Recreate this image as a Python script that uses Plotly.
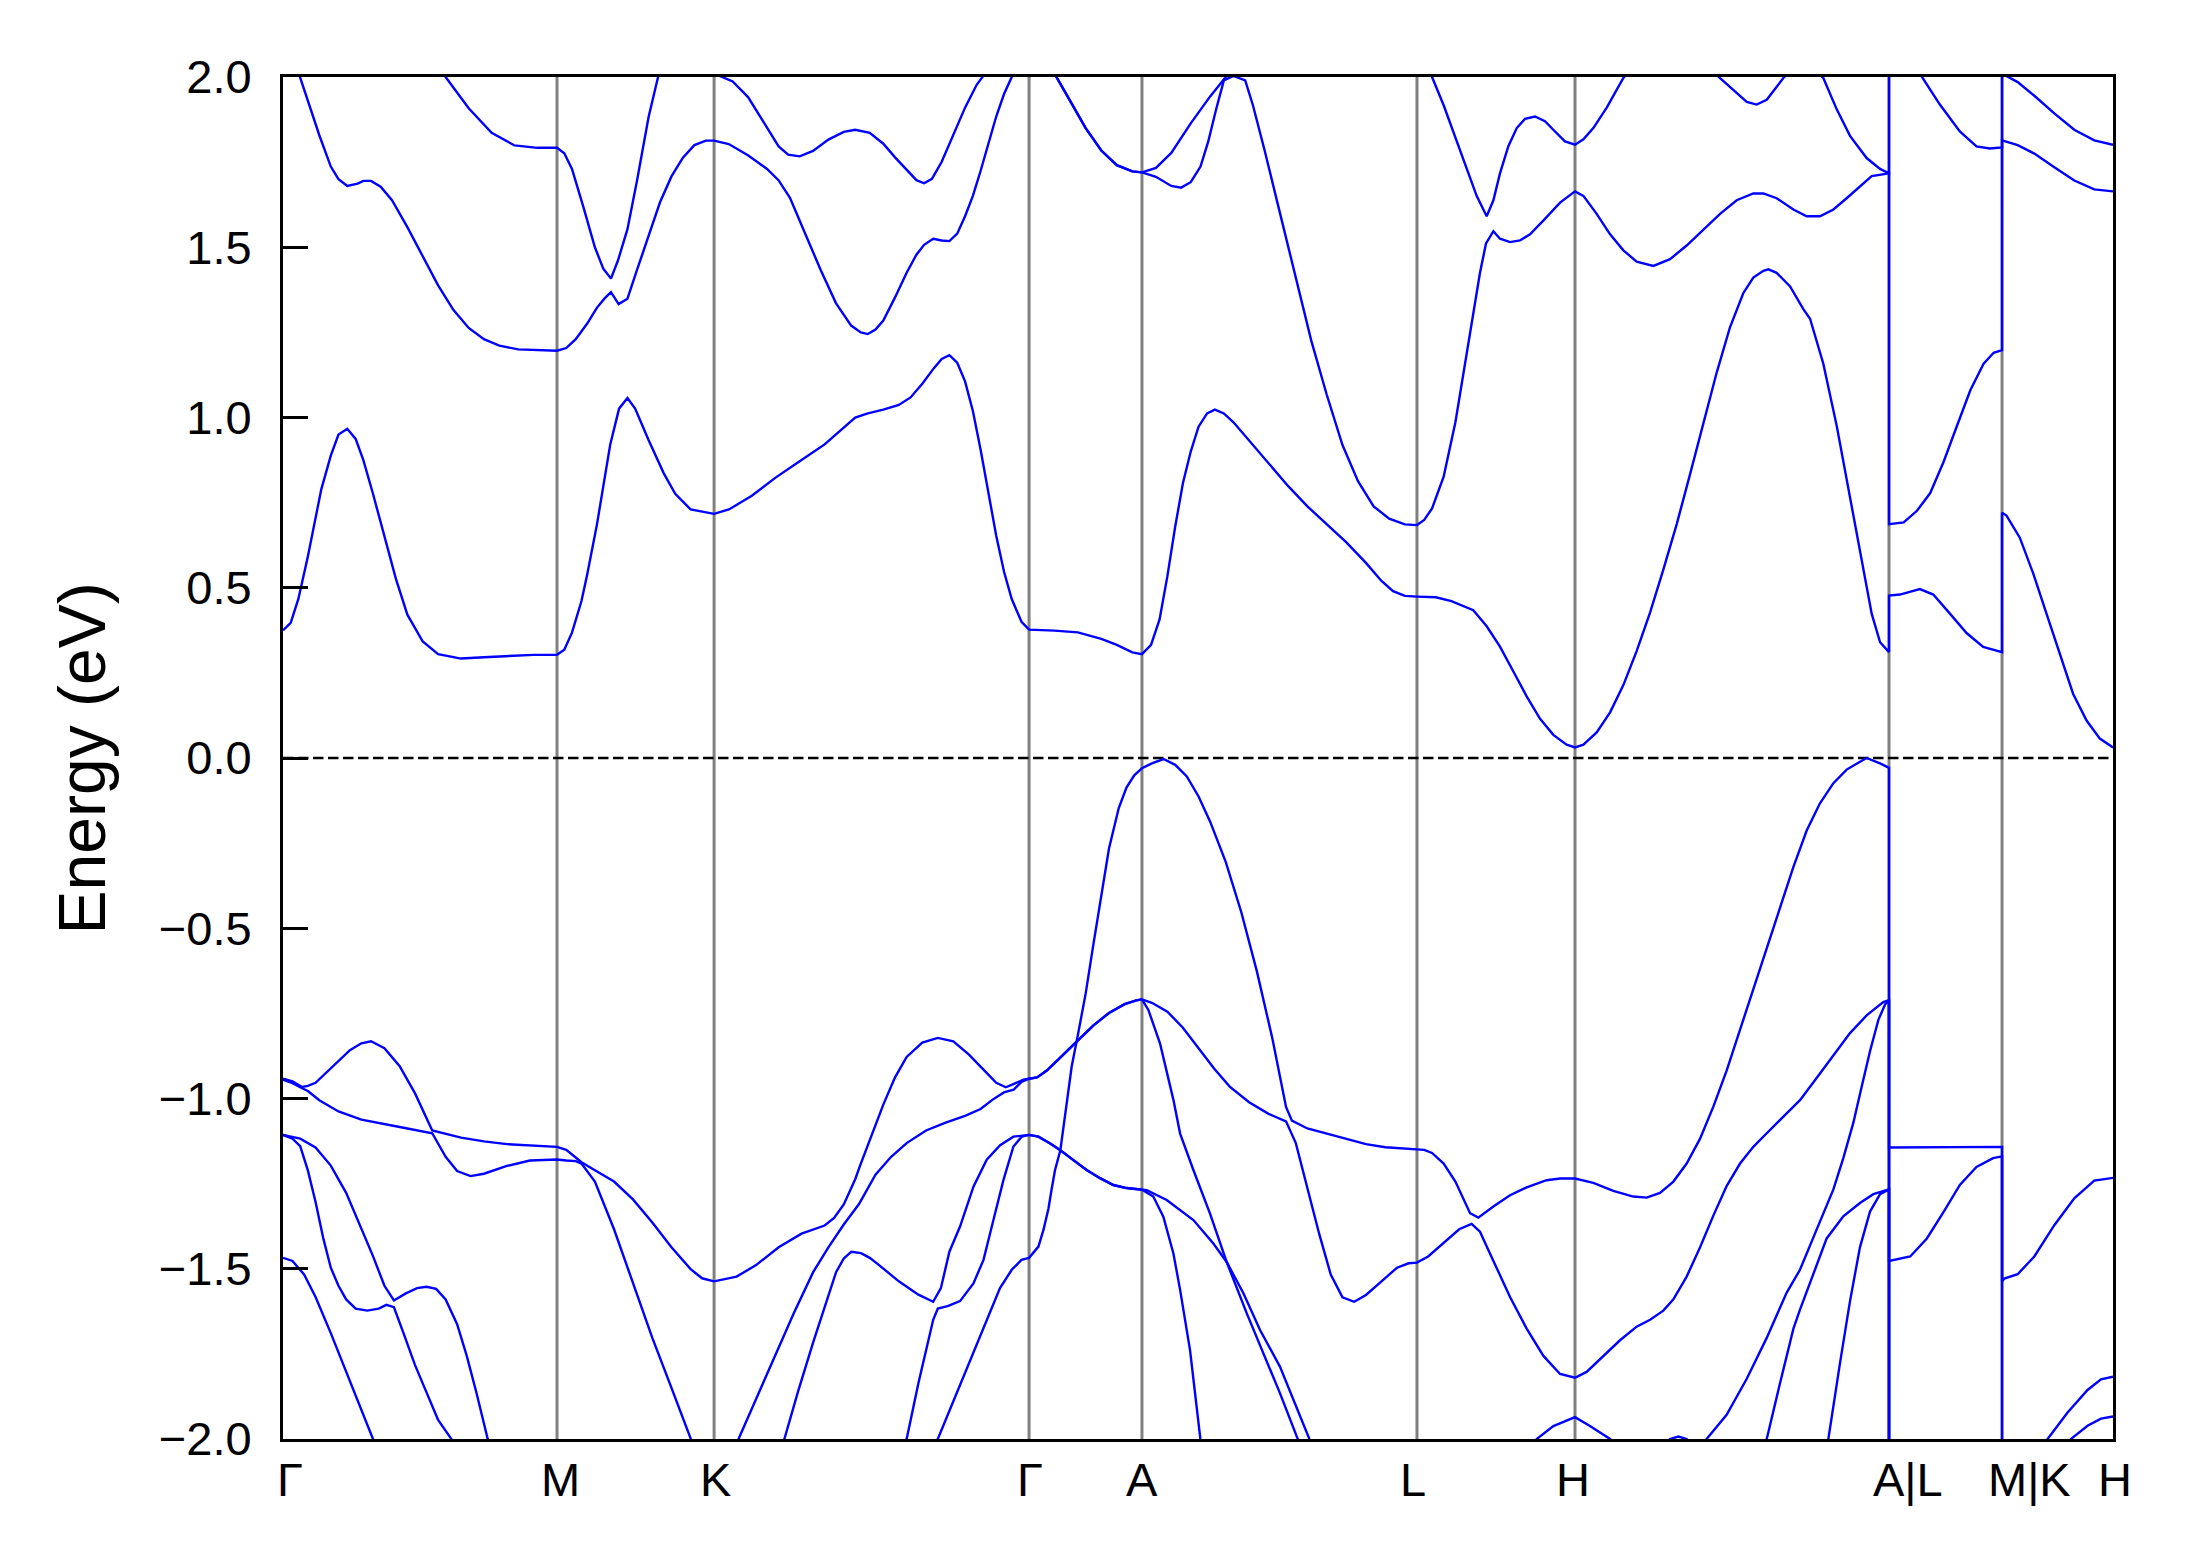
import plotly.graph_objects as go

# ---------------- k-path / axes data ----------------
kpath_pos = [0.0, 0.1961, 0.3085, 0.5339, 0.6147, 0.8115, 0.9246, 1.1493, 1.2302, 1.3096]
kpath_labels = ["Γ", "M", "K", "Γ", "A", "L", "H", "A|L", "M|K", "H"]
energy_ticks = [-2.0, -1.5, -1.0, -0.5, 0.0, 0.5, 1.0, 1.5, 2.0]
energy_tick_text = ["−2.0", "−1.5", "−1.0", "−0.5", "0.0", "0.5", "1.0", "1.5", "2.0"]
fermi_level = 0.0
y_title = "Energy (eV)"

# ---------------- conduction bands ----------------
c1_k = [0, .0055, .011, .0178, .0274, .0342, .0397, .046, .052, .0575, .0644, .0726, .0808, .089, .1, .111, .1274, .1438, .1602, .1794, .1961,
        .2013, .2068, .2136, .2177, .2246, .2342, .2405, .2465, .252, .2616, .2725, .2807, .2917, .3085,
        .3191, .3355, .352, .3684, .3876, .4095, .4185, .4296, .4407, .4491, .4575, .4658, .4714, .4769, .4825, .4881, .4937, .4992, .5048, .5104, .516, .5215, .5285, .5339,
        .5521, .5688, .5856, .5967, .6078, .6147,
        .6212, .6273, .6329, .6385, .644, .6496, .6552, .6613, .6669, .6733, .6802, .6914, .7053, .7192, .7331, .7471, .761, .775, .7861, .7944, .8028, .8115,
        .825, .8362, .8518, .8614, .8709, .8805, .89, .8996, .9091, .9186, .9246,
        .9306, .9401, .9497, .9592, .9687, .9783, .9878, .9974, 1.0069, 1.0164, 1.026, 1.0355, 1.045, 1.0522, 1.0594, 1.063, 1.0689, 1.0785, 1.088, 1.0928, 1.1023, 1.1119, 1.1214, 1.131, 1.1369, 1.1429, 1.1493,
        1.1493, 1.1571, 1.1714, 1.181, 1.1929, 1.2048, 1.2167, 1.2302,
        1.2302, 1.2334, 1.2429, 1.2525, 1.262, 1.2716, 1.2811, 1.2907, 1.3002, 1.3096]
c1_e = [0.375, 0.397, 0.467, 0.592, 0.789, 0.888, 0.950, 0.967, 0.937, 0.875, 0.776, 0.651, 0.526, 0.421, 0.342, 0.305, 0.292, 0.296, 0.300, 0.303, 0.303,
        0.318, 0.368, 0.461, 0.539, 0.684, 0.921, 1.026, 1.057, 1.026, 0.934, 0.836, 0.776, 0.730, 0.717,
        0.730, 0.770, 0.822, 0.868, 0.921, 1.0, 1.012, 1.023, 1.037, 1.059, 1.099, 1.145, 1.172, 1.183, 1.161, 1.106, 1.019, 0.906, 0.780, 0.653, 0.547, 0.467, 0.400, 0.377,
        0.374, 0.369, 0.350, 0.332, 0.310, 0.305,
        0.332, 0.407, 0.534, 0.680, 0.807, 0.900, 0.973, 1.012, 1.023, 1.012, 0.986, 0.932, 0.866, 0.799, 0.739, 0.686, 0.633, 0.573, 0.520, 0.490, 0.476, 0.474,
        0.472, 0.461, 0.434, 0.387, 0.327, 0.254, 0.181, 0.115, 0.068, 0.039, 0.031,
        0.039, 0.075, 0.134, 0.214, 0.314, 0.427, 0.553, 0.687, 0.833, 0.986, 1.132, 1.265, 1.365, 1.411, 1.431, 1.435, 1.425, 1.385, 1.318, 1.29, 1.158, 0.975, 0.765, 0.555, 0.424, 0.340, 0.311,
        0.477, 0.48, 0.496, 0.48, 0.424, 0.367, 0.326, 0.311,
        0.72, 0.712, 0.647, 0.542, 0.424, 0.306, 0.188, 0.11, 0.057, 0.031]

c2_k = [0, .0123, .0178, .026, .0342, .0397, .046, .0534, .0575, .063, .0699, .078, .089, .1, .111, .1219, .1329, .1438, .1548, .1684, .1821, .1961,
        .2027, .2095, .2177, .2246, .23, .2347, .2402, .2465, .2534, .2616, .2698, .278, .2862, .2944, .3026, .3085,
        .319, .3327, .3464, .3546, .3628, .3738, .3847, .3957, .4066, .4135, .4185, .424, .4296, .4379, .4463, .4533, .4588, .4653, .4714, .4769, .4825, .4881, .4937, .4992, .5048, .5104, .516, .5215, .5339,
        .5535, .5633, .5744, .5856, .5967, .6078, .6147,
        .6247, .6357, .6427, .6496, .6566, .6621, .6677, .6733, .6802, .6886, .6941, .7025, .7136, .7248, .7359, .747, .7582, .7693, .7805, .7916, .8028, .8115,
        .8167, .8223, .8306, .839, .8471, .8518, .8566, .8609, .8662, .8709, .8781, .8852, .8924, .9019, .9139, .9246,
        .9306, .9401, .9497, .9592, .9687, .9807, .9926, 1.0045, 1.0164, 1.0284, 1.0403, 1.0522, 1.0594, 1.0689, 1.0809, 1.0904, 1.0999, 1.1095, 1.119, 1.1286, 1.1369, 1.1493,
        1.1493, 1.1598, 1.1693, 1.1788, 1.1884, 1.1979, 1.2075, 1.217, 1.2242, 1.2302,
        1.2302, 1.2414, 1.2533, 1.2676, 1.2819, 1.2962, 1.3096]
c2_e = [2.15, 2.0, 1.934, 1.829, 1.737, 1.70, 1.680, 1.687, 1.695, 1.695, 1.678, 1.638, 1.559, 1.474, 1.388, 1.316, 1.263, 1.230, 1.211, 1.20, 1.197, 1.196,
        1.204, 1.230, 1.276, 1.322, 1.349, 1.368, 1.333, 1.349, 1.434, 1.533, 1.632, 1.708, 1.763, 1.80, 1.813, 1.813,
        1.803, 1.770, 1.730, 1.697, 1.645, 1.539, 1.434, 1.336, 1.270, 1.25, 1.245, 1.258, 1.285, 1.352, 1.425, 1.478, 1.507, 1.525, 1.520, 1.518, 1.54, 1.591, 1.651, 1.724, 1.804, 1.884, 1.95, 2.0, 2.2,
        2.0, 1.93, 1.85, 1.784, 1.741, 1.723, 1.72,
        1.707, 1.68, 1.675, 1.691, 1.737, 1.81, 1.904, 1.99, 2.003, 1.99, 1.917, 1.784, 1.598, 1.411, 1.225, 1.066, 0.919, 0.813, 0.739, 0.703, 0.686, 0.684,
        0.699, 0.733, 0.826, 0.986, 1.185, 1.305, 1.425, 1.511, 1.547, 1.525, 1.515, 1.52, 1.538, 1.578, 1.631, 1.664,
        1.651, 1.598, 1.538, 1.491, 1.458, 1.445, 1.465, 1.505, 1.551, 1.598, 1.638, 1.658, 1.658, 1.644, 1.611, 1.591, 1.591, 1.611, 1.644, 1.678, 1.709, 1.717,
        0.687, 0.692, 0.726, 0.778, 0.87, 0.975, 1.08, 1.158, 1.19, 1.198,
        1.814, 1.80, 1.775, 1.735, 1.696, 1.67, 1.664]

c3_k = [0, .09, .1164, .1329, .1493, .1657, .1821, .1961, .2013, .2068, .215, .2232, .2292, .2347, .2397, .2465, .2534, .2616, .2684, .29, .3085,
        .3218, .3328, .3437, .3547, .3615, .3698, .3793, .3903, .4013, .4095, .4199, .4296, .438, .4463, .4533, .4588, .4644, .4714, .4797, .4881, .4964, .5006, .5339,
        .5535, .5633, .5744, .5856, .5967, .6078, .6147,
        .6247, .6357, .6496, .6635, .6747, .72, .8115,
        .8223, .8306, .839, .8471, .8542, .8614, .8662, .8709, .8769, .8829, .8888, .896, .9031, .9103, .9174, .9246,
        .9306, .9377, .9473, .9592, .99, 1.0284, 1.038, 1.0475, 1.0546, 1.0618, 1.0737, 1.088, 1.1023, 1.1119, 1.1214, 1.1333, 1.1429, 1.1493,
        1.1493, 1.1738, 1.1857, 1.2, 1.2119, 1.2214, 1.2302,
        1.2302, 1.2414, 1.2533, 1.2676, 1.2819, 1.2962, 1.3096]
c3_e = [2.5, 2.2, 2.0, 1.908, 1.836, 1.799, 1.792, 1.792, 1.776, 1.730, 1.618, 1.5, 1.437, 1.408, 1.461, 1.553, 1.697, 1.882, 2.0, 2.3, 2.01,
        1.987, 1.941, 1.868, 1.796, 1.772, 1.767, 1.783, 1.816, 1.839, 1.845, 1.836, 1.804, 1.764, 1.727, 1.697, 1.688, 1.701, 1.751, 1.83, 1.91, 1.977, 2.0, 2.3,
        2.0, 1.93, 1.85, 1.784, 1.741, 1.723, 1.72,
        1.733, 1.777, 1.864, 1.943, 2.0, 2.5, 2.15,
        2.0, 1.917, 1.824, 1.731, 1.651, 1.591, 1.638, 1.717, 1.797, 1.85, 1.877, 1.884, 1.87, 1.84, 1.811, 1.801,
        1.817, 1.85, 1.91, 1.997, 2.15, 1.997, 1.963, 1.927, 1.919, 1.933, 1.997, 2.06, 1.997, 1.905, 1.827, 1.762, 1.730, 1.717,
        2.15, 1.997, 1.919, 1.84, 1.796, 1.79, 1.793,
        2.01, 1.985, 1.945, 1.893, 1.845, 1.814, 1.801]

# ---------------- valence bands ----------------
v1_k = [0, .0068, .0137, .0178, .0233, .0342, .0479, .0561, .063, .0726, .0835, .0945, .1027, .1068, .1274, .1438, .1602, .1821, .1961,
        .2027, .2095, .2136, .2232, .2369, .2506, .2643, .278, .2917, .2999, .3085,
        .3246, .3383, .3547, .3711, .3876, .3944, .4013, .4095, .4129, .4213, .4296, .438, .4463, .4575, .4686, .4797, .4909, .502, .5104, .5173, .5243, .5299, .5339,
        .5396, .5466, .555, .5633, .5679, .5689, .5744, .58, .5856, .5911, .5981, .6036, .6092, .6147,
        .6218, .6301, .6385, .6468, .6552, .6635, .6747, .6858, .6969, .7081, .7178, .722, .7331, .7471, .761, .775, .7888, .8028, .8115,
        .8167, .8223, .8306, .839, .8495, .8554, .8662, .8781, .89, .9043, .9139, .9246,
        .9377, .952, .9663, .9759, .9854, .995, 1.0045, 1.0141, 1.0236, 1.0331, 1.0427, 1.0522, 1.0618, 1.0713, 1.0809, 1.0904, 1.0999, 1.1095, 1.119, 1.1286, 1.1333, 1.1429, 1.1493,
        1.1493, 1.1693, 1.1979, 1.2302,
        1.2302, 1.2318, 1.2414, 1.2533, 1.2676, 1.2819, 1.2962, 1.3096]
v1_e = [-0.942, -0.95, -0.966, -0.963, -0.954, -0.911, -0.858, -0.838, -0.832, -0.852, -0.905, -0.985, -1.058, -1.094, -1.115, -1.126, -1.134, -1.14, -1.142,
        -1.151, -1.174, -1.187, -1.211, -1.244, -1.297, -1.364, -1.437, -1.501, -1.528, -1.537,
        -1.523, -1.49, -1.437, -1.397, -1.373, -1.351, -1.311, -1.237, -1.198, -1.105, -1.018, -0.938, -0.878, -0.836, -0.822, -0.832, -0.871, -0.918, -0.954, -0.967, -0.955, -0.945, -0.942,
        -0.938, -0.918, -0.885, -0.852, -0.833, -0.812, -0.692, -0.546, -0.4, -0.266, -0.147, -0.087, -0.051, -0.03,
        -0.016, -0.003, -0.02, -0.054, -0.113, -0.187, -0.306, -0.453, -0.626, -0.825, -1.025, -1.065, -1.088, -1.104, -1.12, -1.134, -1.143, -1.147, -1.148,
        -1.151, -1.16, -1.191, -1.244, -1.337, -1.35, -1.317, -1.284, -1.261, -1.24, -1.235, -1.235,
        -1.248, -1.271, -1.288, -1.291, -1.277, -1.244, -1.191, -1.118, -1.024, -0.918, -0.798, -0.679, -0.559, -0.44, -0.32, -0.213, -0.133, -0.074, -0.034, -0.011, 0.0, -0.016, -0.029,
        -1.144, -1.144, -1.143, -1.142,
        -1.537, -1.529, -1.516, -1.464, -1.372, -1.293, -1.241, -1.233]

v2_k = [0, .0068, .0137, .0178, .026, .0397, .0561, .0726, .0863, .1068, .1164, .1246, .1342, .1438, .1602, .1767, .1961,
        .2027, .2095, .2136, .2232, .2369, .2506, .2643, .278, .2917, .3085,
        .326, .3465, .3656, .3794, .3903, .4013, .4122, .424, .4352, .4463, .4602, .4742, .4881, .4992, .5076, .5159, .5229, .5285, .5339,
        .5396, .5466, .555, .5633, .5689, .58, .5911, .6023, .6106, .6147,
        .6218, .6329, .644, .6552, .6663, .6775, .6914, .7053, .7178, .7248, .7331, .7415, .7498, .7582, .7666, .775, .7861, .7972, .8056, .8115,
        .8195, .8306, .8417, .8506, .8566, .8662, .8781, .89, .902, .9139, .9246,
        .9329, .9449, .9568, .9687, .9783, .9878, .995, 1.0045, 1.0141, 1.0236, 1.0331, 1.0427, 1.0522, 1.0618, 1.0713, 1.0809, 1.0856, 1.0975, 1.1095, 1.1214, 1.1333, 1.1452, 1.1493,
        1.1493, 1.1645, 1.1764, 1.1884, 1.2, 1.2119, 1.2238, 1.2302,
        1.2302, 1.2628, 1.2771, 1.2914, 1.301, 1.3096]
v2_e = [-0.945, -0.955, -0.97, -0.978, -1.005, -1.038, -1.062, -1.076, -1.086, -1.102, -1.171, -1.213, -1.228, -1.221, -1.198, -1.182, -1.179,
        -1.182, -1.184, -1.191, -1.244, -1.384, -1.544, -1.703, -1.85, -2.0, -2.18,
        -2.0, -1.81, -1.63, -1.51, -1.437, -1.37, -1.31, -1.224, -1.171, -1.131, -1.094, -1.071, -1.051, -1.031, -1.004, -0.982, -0.974, -0.951, -0.942,
        -0.938, -0.918, -0.885, -0.852, -0.828, -0.785, -0.749, -0.723, -0.712, -0.709,
        -0.719, -0.745, -0.792, -0.852, -0.912, -0.965, -1.011, -1.045, -1.067, -1.131, -1.264, -1.397, -1.517, -1.584, -1.597, -1.577, -1.537, -1.497, -1.484, -1.482,
        -1.464, -1.424, -1.384, -1.368, -1.391, -1.477, -1.583, -1.676, -1.756, -1.809, -1.82,
        -1.803, -1.756, -1.71, -1.67, -1.65, -1.623, -1.59, -1.523, -1.437, -1.344, -1.257, -1.191, -1.142, -1.102, -1.064, -1.025, -1.005, -0.94, -0.874, -0.808, -0.756, -0.717, -0.711,
        -1.477, -1.464, -1.411, -1.333, -1.254, -1.201, -1.175, -1.17,
        -2.18, -2.0, -1.922, -1.856, -1.825, -1.817]

v3_k = [0, .0123, .0233, .0342, .0452, .0561, .0644, .0726, .0794, .0876, .0959, .1027, .1096, .1164, .1246, .1315, .1383, .1465, .1961,
        .2506, .3085,
        .3588, .3684, .3794, .3903, .3958, .4013, .4067, .4136, .4199, .4268, .4407, .4547, .4653, .4708, .4769, .4845, .4941, .5036, .5132, .5227, .5339,
        .5406, .549, .5563, .5584, .5608, .5644, .5679, .58, .5911, .6023, .6106, .6147,
        .6193, .6276, .6372, .642, .6515, .6634, .6753, .6873, .6992, .7135, .7345, .7666, .8115,
        .87, .8972, .9091, .9246, .9353, .9497, .97, .9926, .9986, 1.0045, 1.012, 1.0188, 1.0331, 1.0475, 1.0618, 1.0761, 1.0856, 1.0975, 1.1095, 1.1166, 1.1238, 1.1297, 1.1357, 1.1417, 1.1465, 1.1493,
        1.1493, 1.2302,
        1.2302, 1.2795, 1.2914, 1.301, 1.3096]
v3_e = [-1.107, -1.118, -1.144, -1.197, -1.277, -1.384, -1.463, -1.55, -1.593, -1.573, -1.557, -1.553, -1.559, -1.59, -1.663, -1.756, -1.862, -2.0, -2.5,
        -2.6, -2.4,
        -2.0, -1.863, -1.716, -1.577, -1.51, -1.47, -1.45, -1.454, -1.468, -1.49, -1.537, -1.576, -1.597, -1.557, -1.45, -1.376, -1.259, -1.18, -1.137, -1.112, -1.107,
        -1.112, -1.132, -1.152, -1.088, -1.005, -0.906, -0.833, -0.785, -0.749, -0.723, -0.712, -0.709,
        -0.74, -0.838, -1.004, -1.103, -1.21, -1.338, -1.48, -1.572, -1.68, -1.788, -2.0, -2.3, -2.4,
        -2.2, -2.0, -1.962, -1.936, -1.962, -2.0, -2.1, -2.0, -1.993, -2.0, -2.04, -2.0, -1.929, -1.823, -1.703, -1.57, -1.503, -1.385, -1.267, -1.175, -1.071, -0.966, -0.861, -0.769, -0.724, -0.711,
        -2.4, -2.5,
        -2.4, -2.0, -1.961, -1.94, -1.934]

v4_k = [0, .0068, .0123, .0178, .0233, .0288, .0342, .0397, .0452, .052, .0603, .0685, .074, .0794, .0863, .0945, .1027, .1109, .1205, .1961,
        .2506, .3085,
        .4463, .4547, .4653, .4686, .4756, .4845, .4941, .5013, .5084, .5156, .5227, .5287, .5339,
        .5406, .549, .556, .5656, .5751, .5847, .5942, .6037, .6147,
        .6181, .6324, .6515, .6658, .6753, .6897, .7135, .7262, .75, .8115,
        .9246, 1.0, 1.0618, 1.0713, 1.0809, 1.0856, 1.0951, 1.1047, 1.1166, 1.1285, 1.1381, 1.1493,
        1.1493, 1.2302,
        1.2302, 1.3096]
v4_e = [-1.107, -1.118, -1.14, -1.211, -1.304, -1.41, -1.497, -1.55, -1.59, -1.617, -1.623, -1.617, -1.606, -1.613, -1.69, -1.783, -1.863, -1.943, -2.0, -2.7,
        -2.8, -2.6,
        -2.0, -1.836, -1.65, -1.617, -1.61, -1.595, -1.543, -1.474, -1.357, -1.239, -1.141, -1.112, -1.107,
        -1.112, -1.132, -1.151, -1.181, -1.21, -1.234, -1.254, -1.263, -1.268,
        -1.269, -1.298, -1.357, -1.426, -1.48, -1.631, -1.866, -2.0, -2.4, -2.6,
        -2.3, -2.3, -2.0, -1.836, -1.676, -1.62, -1.516, -1.411, -1.346, -1.307, -1.281, -1.267,
        -2.6, -2.6,
        -2.6, -2.3]

v5_k = [0, .0068, .0151, .0233, .0342, .0452, .0561, .0644, .1961,
        .3085,
        .4686, .4797, .4909, .502, .5131, .5215, .5285, .5339,
        .5406, .5442, .5478, .5501, .5525, .5563, .5656, .5751, .5847, .5942, .6037, .6147,
        .6228, .63, .6372, .642, .6491, .6565, .70, .8115,
        1.05, 1.1059, 1.1142, 1.1214, 1.1285, 1.1357, 1.1429, 1.1493,
        1.1493, 1.2302,
        1.2302, 1.3096]
v5_e = [-1.468, -1.477, -1.517, -1.583, -1.689, -1.803, -1.916, -2.0, -2.9,
        -2.8,
        -2.0, -1.889, -1.776, -1.663, -1.557, -1.503, -1.474, -1.468,
        -1.435, -1.386, -1.323, -1.265, -1.21, -1.152, -1.181, -1.21, -1.234, -1.254, -1.263, -1.268,
        -1.288, -1.347, -1.455, -1.562, -1.739, -2.0, -2.6, -2.8,
        -2.6, -2.0, -1.778, -1.595, -1.437, -1.332, -1.281, -1.267,
        -2.8, -2.8,
        -2.8, -2.6]

bands = [(c1_k, c1_e), (c2_k, c2_e), (c3_k, c3_e),
         (v1_k, v1_e), (v2_k, v2_e), (v3_k, v3_e), (v4_k, v4_e), (v5_k, v5_e)]

# ---------------- styles ----------------
FONT = "Liberation Sans, Arial, Helvetica, sans-serif"
BAND_COLOR = "#0000ff"
label_xshift = [7, 3, 1, 1, 0, -4, -2, 19, 27, 2]

fig = go.Figure()
for k, e in bands:
    fig.add_trace(go.Scatter(x=k, y=e, mode="lines",
                             line=dict(color=BAND_COLOR, width=2.4),
                             showlegend=False, hoverinfo="skip"))

shapes = []
for pos in kpath_pos[1:-1]:
    shapes.append(dict(type="line", xref="x", yref="paper", x0=pos, x1=pos, y0=0, y1=1,
                       line=dict(color="#808080", width=3), layer="below"))
shapes.append(dict(type="line", xref="paper", yref="y", x0=0, x1=1, y0=fermi_level, y1=fermi_level,
                   line=dict(color="black", width=2.5, dash="10.5px,4.5px"), layer="below"))

annotations = []
for pos, lab, sh in zip(kpath_pos, kpath_labels, label_xshift):
    annotations.append(dict(x=pos, y=0, xref="x", yref="paper", text=lab, showarrow=False,
                            xanchor="center", yanchor="top", xshift=sh, yshift=-12,
                            font=dict(family=FONT, size=47, color="black")))
annotations.append(dict(x=-0.1096, y=0.5, xref="paper", yref="paper", text=y_title, showarrow=False,
                        textangle=-90, xanchor="center", yanchor="middle",
                        font=dict(family=FONT, size=66, color="black")))

# the page body adds an 8 px offset, so the figure is sized to keep the plot box in place
fig.update_layout(
    width=2183, height=1559,
    margin=dict(l=275, r=78, t=69, b=128, pad=0),
    paper_bgcolor="white", plot_bgcolor="white",
    shapes=shapes, annotations=annotations,
    xaxis=dict(range=[kpath_pos[0], kpath_pos[-1]], showgrid=False, zeroline=False,
               showline=True, linecolor="black", linewidth=3, mirror=True,
               ticks="", showticklabels=False),
    yaxis=dict(range=[-2.0, 2.0], showgrid=False, zeroline=False,
               showline=True, linecolor="black", linewidth=3, mirror=True,
               ticks="inside", ticklen=25, tickwidth=3, tickcolor="black",
               tickvals=energy_ticks, ticktext=energy_tick_text,
               ticklabelstandoff=19,
               tickfont=dict(family=FONT, size=47, color="black")),
)

fig.write_html("out.html")
